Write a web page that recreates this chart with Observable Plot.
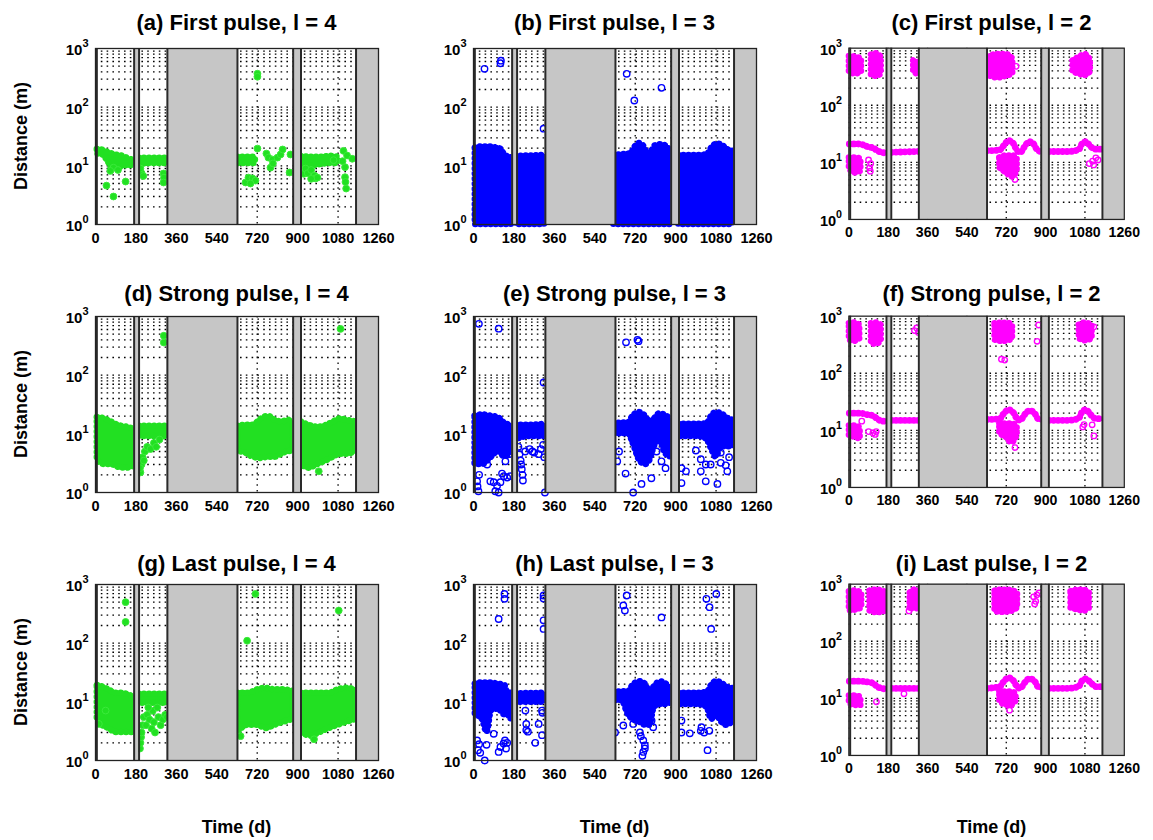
<!DOCTYPE html>
<html><head><meta charset="utf-8">
<script src="https://cdn.jsdelivr.net/npm/d3@7"></script>
<script src="https://cdn.jsdelivr.net/npm/@observablehq/plot@0.6"></script>
<style>
body{margin:0;background:#fff;}
#wrap{position:relative;width:1153px;height:840px;overflow:hidden;background:#fff;font-family:"Liberation Sans",Arial,sans-serif;}
.panel{position:absolute;}
#overlay{position:absolute;left:0;top:0;pointer-events:none;}
</style></head><body><div id="wrap"></div>
<script>
// ---------- axes / layout data ----------
const xTicks = [0, 180, 360, 540, 720, 900, 1080, 1260];
const yTicks = [1, 10, 100, 1000];
const gridY = [2,3,4,5,6,7,8,9,10,20,30,40,50,60,70,80,90,100,200,300,400,500,600,700,800,900];
const gridX = [180, 360, 540, 720, 900, 1080];
const gaps = [[0, 6], [172, 194], [320, 632], [880, 915], [1160, 1260]];
const titles = ["(a) First pulse, l = 4", "(b) First pulse, l = 3", "(c) First pulse, l = 2",
                "(d) Strong pulse, l = 4", "(e) Strong pulse, l = 3", "(f) Strong pulse, l = 2",
                "(g) Last pulse, l = 4", "(h) Last pulse, l = 3", "(i) Last pulse, l = 2"];
const yLabel = "Distance (m)";
const xLabel = "Time (d)";

// ---------- panel (a): green, [segment, t, low, high] and [t, y] ----------
const a_bands = [
  ["1",8,16,19],["1",30,15.5,18.5],["1",55,12,17],["1",75,9,16],["1",100,9,15],["1",125,10,14.5],["1",150,10,13],["1",171,10.5,12.5],
  ["2",195,10.5,13.5],["2",250,11,13.5],["2",319,11,13.5],
  ["3",633,11,14],["3",712,11,14],
  ["4",916,10,14.5],["4",960,10,14],["4",1000,10.5,14],["4",1050,11,14.5],["4",1080,11,14]];
const a_dots = [[49,4.6],[80,3.0],[134,5.4],[80,9.3],[66,8.2],[100,8.5],[205,7.5],[213,6.7],[200,9],[303,7.4],[305,6.3],[303,5.2],
  [668,5.2],[681,6.3],[699,6.1],[712,5.6],[690,5.0],[721,372],[721,330],[721,19.7],[761,16.2],[770,13.8],[788,12.8],[810,13.8],
  [824,15.6],[779,9.3],[790,11],[833,19],[868,15.6],[864,7.7],[928,7.3],[935,9],[945,7.5],[960,8.5],[975,6.8],[979,6.1],
  [988,6.3],[960,6],[1104,18],[1120,15],[1143,13.2],[1111,9.5],[1111,6.4],[1113,5.3],[1116,4.1],[1100,12],[1060,12.5]];

// ---------- panel (b): blue ----------
const b_bands = [
  ["1",8,1,20],["1",40,1,21],["1",80,1,21],["1",105,1,20],["1",125,1,19],["1",140,1,15],["1",168,1,14],
  ["2",189,1,14.5],["2",316,1,15],
  ["3",625,1,15],["3",660,1,15.5],["3",700,1,16],["3",720,1,21],["3",740,1,24],["3",760,1,21],["3",775,1,16],["3",790,1,17],
  ["3",810,1,22],["3",835,1,23],["3",855,1,22],["3",876,1,18],
  ["4",914,1,15],["4",1000,1,15],["4",1040,1,15.5],["4",1060,1,20],["4",1085,1,23.5],["4",1110,1,22],["4",1130,1,19],["4",1154,1,18]];
const b_dots = [[49,450],[120,560],[122,620],[682,370],[716,130],[837,214],[312,43]];

// ---------- panel (c): magenta ----------
const c_bands = [
  ["1a",2,380,720],["1a",30,350,700],["1a",58,380,650],
  ["1b",103,330,760],["1b",125,320,800],["1b",148,350,700],
  ["2a",296,380,600],["2a",318,340,560],
  ["3a",640,330,700],["3a",680,300,780],["3a",720,320,780],["3a",750,350,650],
  ["4a",1025,380,600],["4a",1055,350,700],["4a",1080,330,780],["4a",1105,380,620],
  ["1c",2,7.5,12],["1c",30,6.5,12],["1c",55,7,11.5],
  ["3c",690,8,12],["3c",720,6.5,13],["3c",750,5.5,13],["3c",770,7,12]];
const c_line = [
  ["1",2,21],["1",40,21],["1",70,20],["1",90,18.5],["1",110,18],["1",130,16],["1",150,15],["1",171,14.5],
  ["2",195,15],["2",319,15.5],
  ["3",633,16],["3",690,16.5],["3",710,20],["3",730,24],["3",750,22],["3",770,16],["3",785,15],["3",800,18],["3",825,23],["3",845,21],["3",865,16],["3",879,15.5],
  ["4",916,15.5],["4",1000,15.5],["4",1050,16.5],["4",1070,22],["4",1085,23],["4",1105,19],["4",1130,17],["4",1159,17]];
const c_dots = [[90,11],[95,8],[100,9.5],[98,7],[765,480],[760,5],[1100,9.5],[1115,10.5],[1130,12],[1140,11],[1120,9],[300,450],[310,520]];

// ---------- panel (d): green ----------
const d_bands = [
  ["1",8,3.5,19],["1",40,3,18],["1",70,3,16],["1",100,2.7,14],["1",140,2.6,13],["1",171,2.8,12],
  ["2",195,9,13.5],["2",319,9,13.5],
  ["3",633,5,13.5],["3",680,4.5,14],["3",700,4,14],["3",740,3.8,18],["3",770,4,20],["3",800,4,17],["3",830,4.5,16],["3",860,5,17],["3",879,5,15],
  ["4",916,3,16],["4",950,2.6,14],["4",990,3,13],["4",1030,3.5,14],["4",1060,4,16],["4",1090,4.5,18],["4",1120,4.5,17],["4",1159,5,16]];
const d_dots = [[200,2.2],[205,3],[210,4],[220,5],[230,6],[245,5.5],[260,7],[270,6],[285,8],[304,470],[304,360],[994,2.3],[1091,615],[198,2.6],[215,3.5]];

// ---------- panel (e): blue ----------
const e_bands = [
  ["1",7,3,20],["1",40,3,21],["1",80,4,20],["1",110,5,19],["1",140,4,15],["1",168,5,14],
  ["2",189,8,14],["2",250,9,14],["2",316,9,14.5],
  ["3",625,10,15],["3",690,10,15.5],["3",710,7,20],["3",740,3.5,23],["3",765,3,20],["3",785,3.5,16],["3",805,6,18],["3",830,8,22],["3",850,5,21],["3",876,4,18],
  ["4",914,9,14.5],["4",1000,9,14.5],["4",1040,8,15],["4",1060,5.5,20],["4",1080,4,23],["4",1105,6,22],["4",1125,6,19],["4",1154,6,17]];
const e_dots = [[16,1.55],[18,1.27],[22,1.05],[25,2.0],[61,3.0],[75,1.55],[90,1.5],[105,1.3],[120,1.5],[127,2.1],[135,1.9],[150,1.8],
  [164,1.9],[112,1.0],[97,1.05],[142,3.4],[157,4.5],[170,6.5],[24,750],[112,620],
  [200,6],[205,4.5],[210,3.5],[215,2.5],[218,2],[220,1.6],[212,3],[230,5],[250,5.5],[262,5],[270,4.8],[290,4.5],[300,5.5],[310,6.5],[315,4],[318,1.0],[312,75],
  [677,2.1],[711,1.0],[748,1.4],[792,1.75],[640,3.4],[648,5],[837,3.4],[855,2.6],[859,5.5],[815,5],[793,6],[679,363],[730,400],[735,380],
  [926,2.6],[926,1.45],[946,2.3],[990,5.2],[1012,3.7],[1012,2.3],[1034,3.0],[1056,3.0],[1034,1.55],[1086,1.4],[1101,4.8],[1101,3.2],[1123,2.9],[1130,2.3],[1138,4.0]];

// ---------- panel (f): magenta ----------
const f_bands = [
  ["1a",2,380,740],["1a",25,360,760],["1a",50,400,700],
  ["1b",103,330,740],["1b",125,320,760],["1b",148,360,700],
  ["3a",668,380,740],["3a",700,360,760],["3a",730,370,750],["3a",749,400,700],
  ["4a",1054,400,700],["4a",1080,370,760],["4a",1113,400,700],
  ["1c",2,8,12],["1c",30,7.5,12],["1c",52,7,11],
  ["3c",690,8.5,13],["3c",720,7.5,13],["3c",745,6,13],["3c",770,8,12]];
const f_line = [
  ["1",2,20],["1",50,20],["1",80,19],["1",110,18],["1",130,16],["1",150,14.5],["1",171,14.5],
  ["2",195,15],["2",319,15],
  ["3",633,15.5],["3",690,16],["3",710,20],["3",730,23],["3",750,21],["3",770,16],["3",785,15],["3",800,18],["3",825,22],["3",845,21],["3",865,16],["3",879,15],
  ["4",916,15],["4",1000,15],["4",1050,16],["4",1070,22],["4",1085,23],["4",1105,19],["4",1130,16],["4",1159,16]];
const f_dots = [[300,560],[310,620],[318,520],[698,176],[713,170],[868,700],[861,363],[1121,650],[90,9.5],[110,9],[125,9.5],[120,8.5],
  [59,14.5],[760,5],[1076,12.6],[1113,12.5],[1121,8],[1070,11.5]];

// ---------- panel (g): green ----------
const g_bands = [
  ["1",8,5,19],["1",30,4,18],["1",60,3.5,16],["1",90,3,14],["1",120,3,14],["1",150,3,13],["1",171,3,12],
  ["2",195,9.5,13.5],["2",319,9.5,13.5],
  ["3",633,3,14],["3",680,4,14],["3",720,4,16],["3",760,3.5,17],["3",800,4,16],["3",840,4.5,16],["3",879,5,15],
  ["4",916,3,14],["4",960,2.6,14],["4",1000,3,14],["4",1040,3.5,14],["4",1080,4,16],["4",1120,4.5,17],["4",1159,5,16]];
const g_dots = [[15,4.2],[45,7.1],[134,500],[134,230],[198,1.6],[200,2],[203,2.5],[205,3],[210,4],[215,5.5],[225,4],[230,6],[240,5],
  [250,3.5],[260,4.5],[265,3],[280,5.5],[290,4],[300,5],[310,6],[318,5.5],[255,7],[275,8],[235,8],[675,110],[712,690],[646,2.6],[1083,360],[973,2.3]];

// ---------- panel (h): blue ----------
const h_bands = [
  ["1",8,6,20],["1",40,5,21],["1",60,3,21],["1",80,7,21],["1",110,7.5,20],["1",140,6,19],["1",150,6,15],["1",168,5,14],
  ["2",189,9.8,13.7],["2",316,9.8,14],
  ["3",625,10.5,14.5],["3",660,10.5,14.8],["3",690,6,15],["3",710,5,19],["3",740,4.5,22],["3",765,4,20],["3",785,4,15],["3",805,8,18],["3",830,9,22],["3",850,9,21],["3",876,9.5,17],
  ["4",914,9,14],["4",1000,9,14],["4",1040,8,14.5],["4",1060,5,19],["4",1080,6,22],["4",1105,4.5,21],["4",1125,4,18],["4",1154,4.5,17]];
const h_dots = [[16,2.2],[20,1.5],[25,1.9],[30,1.35],[50,1.0],[58,1.85],[90,2.85],[112,1.4],[120,1.7],[134,1.95],[140,2.2],[150,2.0],[145,1.6],
  [138,690],[138,570],[112,258],
  [231,7.1],[235,4.2],[235,3.3],[242,3.1],[275,2.0],[290,4.2],[305,7.1],[305,2.7],[307,6.5],[312,650],[312,580],[312,245],[312,175],
  [630,3.0],[667,3.95],[667,440],[674,360],[682,650],[837,275],[741,3.0],[745,2.6],[756,2.2],[763,1.8],[763,1.6],[756,1.4],[752,1.2],[793,4.8],[800,3.7],[711,4.2],[726,5],
  [926,4.8],[926,3.0],[963,2.9],[1012,3.2],[1015,3.7],[1027,3.0],[1042,1.5],[1050,3.2],[1037,570],[1051,410],[1058,175],[1081,690]];

// ---------- panel (i): magenta ----------
const i_bands = [
  ["1a",2,340,740],["1a",30,350,760],["1a",59,380,700],
  ["1b",96,340,760],["1b",130,315,790],["1b",163,330,740],
  ["2a",280,350,700],["2a",300,380,790],["2a",319,360,760],
  ["3a",668,330,760],["3a",700,320,790],["3a",740,330,780],["3a",772,380,700],
  ["4a",1016,380,740],["4a",1050,350,790],["4a",1080,340,780],["4a",1100,380,720],
  ["1c",2,8,11],["1c",30,7.5,11],["1c",55,7.5,10.5],
  ["3c",690,9,13],["3c",720,7.5,13],["3c",745,7.5,13],["3c",765,9,12]];
const i_line = [
  ["1",2,20],["1",50,20],["1",80,19.5],["1",110,18.5],["1",130,16],["1",150,15],["1",171,14.5],
  ["2",195,15],["2",319,15],
  ["3",633,15],["3",690,16],["3",710,20],["3",730,23],["3",750,21],["3",770,16],["3",785,15],["3",800,18],["3",825,22],["3",845,21],["3",865,16],["3",879,15],
  ["4",916,15],["4",1000,15],["4",1050,16],["4",1070,21],["4",1085,22],["4",1105,19],["4",1130,16],["4",1159,16]];
const i_dots = [[126,8.7],[252,12],[735,6.2],[275,340],[845,600],[855,500],[860,650],[870,700],[850,450]];

// ---------- build ----------
const GREEN = "#22e022", BLUE = "#0000ff", MAGENTA = "#ff00ff";
const panels = [
  {kind:"g", bands:a_bands, dots:a_dots},
  {kind:"b", bands:b_bands, dots:b_dots},
  {kind:"m", bands:c_bands, line:c_line, dots:c_dots},
  {kind:"g", bands:d_bands, dots:d_dots},
  {kind:"b", bands:e_bands, dots:e_dots},
  {kind:"m", bands:f_bands, line:f_line, dots:f_dots},
  {kind:"g", bands:g_bands, dots:g_dots},
  {kind:"b", bands:h_bands, dots:h_dots},
  {kind:"m", bands:i_bands, line:i_line, dots:i_dots}
];
const colX0 = [95, 473, 850];
const rowTop = [48, 316, 584];
const PW = 283, PH = 176, ML = 60, MR = 30, MT = 12, MB = 32;
const titleBase = [30, 301, 571];
const supChars = {"0":"⁰","1":"¹","2":"²","3":"³"};
const segEdges = gaps.flatMap(g => g).filter(v => v > 0 && v < 1260);

const wrap = document.getElementById("wrap");

panels.forEach((p, k) => {
  const col = k % 3, row = Math.floor(k / 3);
  const color = p.kind === "g" ? GREEN : p.kind === "b" ? BLUE : MAGENTA;
  const bx = {x: d => d[1], y1: d => d[2], y2: d => d[3], z: d => d[0], curve: "monotone-x"};
  const marks = [
    Plot.ruleY(gridY, {stroke: "#000", strokeWidth: 1.3, strokeDasharray: "1.6,4.2"}),
    Plot.ruleX(gridX, {stroke: "#000", strokeWidth: 1.3, strokeDasharray: "1.6,4.2"}),
    // dense clouds: filled envelope plus a beaded outline that mimics the overlapping markers
    Plot.areaY(p.bands, {...bx, fill: color, stroke: color, strokeWidth: 2, strokeLinejoin: "round"}),
    Plot.areaY(p.bands, {...bx, fill: "none", stroke: color, strokeWidth: 6.5, strokeDasharray: "0.1,5", strokeLinecap: "round"})
  ];
  if (p.line) {
    marks.push(Plot.line(p.line, {x: d => d[1], y: d => d[2], z: d => d[0], stroke: color, strokeWidth: 4.5, curve: "monotone-x"}));
    marks.push(Plot.line(p.line, {x: d => d[1], y: d => d[2], z: d => d[0], stroke: color, strokeWidth: 7,
      strokeDasharray: "0.1,4.5", strokeLinecap: "round", curve: "monotone-x"}));
  }
  if (p.kind === "g") marks.push(Plot.dot(p.dots, {x: d => d[0], y: d => d[1], r: 3.4, fill: color, stroke: "#3aea3a", strokeWidth: 1}));
  else if (p.kind === "b") marks.push(Plot.dot(p.dots, {x: d => d[0], y: d => d[1], r: 3.2, fill: "none", stroke: color, strokeWidth: 1.4}));
  else marks.push(Plot.dot(p.dots, {x: d => d[0], y: d => d[1], r: 2.8, fill: "none", stroke: color, strokeWidth: 1.4}));
  marks.push(Plot.rect(gaps, {x1: d => d[0], x2: d => d[1], y1: 1, y2: 1000, fill: "#c6c6c6"}));
  marks.push(Plot.ruleX(segEdges, {stroke: "#2a2a2a", strokeWidth: 2}));
  marks.push(Plot.frame({stroke: "#222", strokeWidth: 1.3}));

  const svg = Plot.plot({
    width: ML + PW + MR, height: MT + PH + MB,
    marginLeft: ML, marginRight: MR, marginTop: MT, marginBottom: MB,
    style: {fontFamily: "'Liberation Sans', Arial, sans-serif", fontSize: "14px", fontWeight: "bold", color: "#000", background: "transparent", overflow: "visible"},
    x: {domain: [0, 1260], ticks: xTicks, tickSize: 0, tickPadding: 8, label: null, tickFormat: d => String(d)},
    y: {type: "log", domain: [1, 1000], ticks: yTicks, tickSize: 0, tickPadding: 7, label: null,
        tickFormat: d => "10" + supChars[String(Math.round(Math.log10(d)))]},
    marks
  });
  d3.select(svg).selectAll('g[aria-label="x-axis tick label"] text').attr("font-size", "14.5px").attr("font-weight", "bold");
  // render the exponent as a raised, smaller digit
  d3.select(svg).selectAll('g[aria-label="y-axis tick label"] text').each(function() {
    const t = this.textContent;
    const exp = Object.keys(supChars).find(key => supChars[key] === t.slice(-1));
    if (exp === undefined) return;
    const sel = d3.select(this).attr("font-size", "15px").attr("font-weight", "bold");
    sel.text(null);
    sel.append("tspan").attr("dy", "2").text("10");
    sel.append("tspan").attr("dy", "-8").attr("font-size", "11px").text(exp);
  });
  const div = document.createElement("div");
  div.className = "panel";
  div.style.left = (colX0[col] - ML) + "px";
  div.style.top = (rowTop[row] - MT) + "px";
  div.appendChild(svg);
  wrap.appendChild(div);
});

// titles and axis labels
const ov = d3.select(wrap).append("svg").attr("id", "overlay").attr("width", 1153).attr("height", 840)
  .style("font-family", "'Liberation Sans', Arial, sans-serif").style("font-weight", "bold");
titles.forEach((t, k) => {
  const col = k % 3, row = Math.floor(k / 3);
  ov.append("text").attr("x", colX0[col] + PW / 2).attr("y", titleBase[row]).attr("text-anchor", "middle")
    .attr("font-size", "22px").attr("fill", "#000").text(t);
});
rowTop.forEach(rt => {
  const cy = rt + PH / 2;
  ov.append("text").attr("transform", `translate(27,${cy}) rotate(-90)`).attr("text-anchor", "middle")
    .attr("font-size", "18px").attr("fill", "#000").text(yLabel);
});
colX0.forEach(x0 => {
  ov.append("text").attr("x", x0 + PW / 2).attr("y", 833).attr("text-anchor", "middle")
    .attr("font-size", "18px").attr("fill", "#000").text(xLabel);
});
</script></body></html>
